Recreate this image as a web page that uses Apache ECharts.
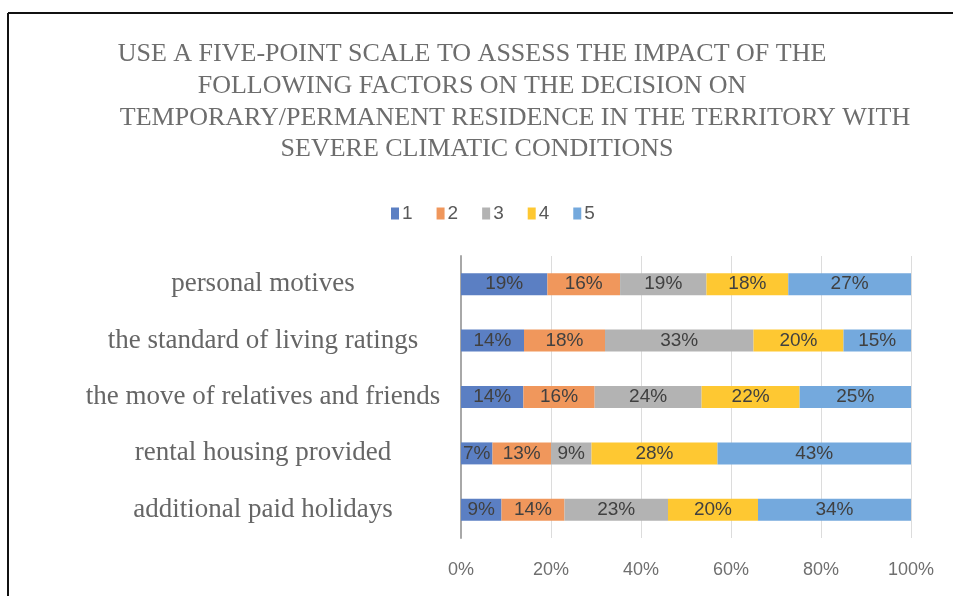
<!DOCTYPE html>
<html>
<head>
<meta charset="utf-8">
<script src="https://cdn.jsdelivr.net/npm/echarts@6/dist/echarts.min.js"></script>
<style>
  html, body { margin: 0; padding: 0; background: #fff; }
  #chart { width: 955px; height: 596px; }
</style>
</head>
<body>
<div id="chart"></div>
<script>
// factors, top to bottom as in the picture
const categories = [
  'personal motives',
  'the standard of living ratings',
  'the move of relatives and friends',
  'rental housing provided',
  'additional paid holidays'
]
// scores 1..5, percent of answers for each factor
const score1 = [19, 14, 14, 7, 9]
const score2 = [16, 18, 16, 13, 14]
const score3 = [19, 33, 24, 9, 23]
const score4 = [18, 20, 22, 28, 20]
const score5 = [27, 15, 25, 43, 34]
const seriesNames = ['1', '2', '3', '4', '5']
const xTicks = ['0%', '20%', '40%', '60%', '80%', '100%']

const titleLines = [
  'USE A FIVE-POINT SCALE TO ASSESS THE IMPACT OF THE',
  'FOLLOWING FACTORS ON THE DECISION ON',
  'TEMPORARY/PERMANENT RESIDENCE IN THE TERRITORY WITH',
  'SEVERE CLIMATIC CONDITIONS'
]

const colors = ['#5b7fc3', '#f0975c', '#b3b3b3', '#fec832', '#74a9dd']
const allScores = [score1, score2, score3, score4, score5]

// 100% stacked: every row is scaled to its own total
const totals = categories.map((c, i) => allScores.reduce((s, arr) => s + arr[i], 0))

const chart = echarts.init(document.getElementById('chart'))

// title lines are not centred on the same x in the original
const titleX = [472, 472, 515, 477]
const titleY = [54, 86, 118, 149]

const option = {
  backgroundColor: '#fff',
  color: colors,
  animation: false,
  graphic: [
    { type: 'line', shape: { x1: 8, y1: 13, x2: 953, y2: 13 }, style: { stroke: '#111', lineWidth: 2 } },
    { type: 'line', shape: { x1: 8, y1: 13, x2: 8, y2: 596 }, style: { stroke: '#111', lineWidth: 2 } }
  ].concat(titleLines.map((t, i) => ({
    type: 'text',
    x: titleX[i],
    y: titleY[i],
    style: {
      text: t,
      fill: '#6d6d6d',
      font: '26px "Liberation Serif"',
      textAlign: 'center',
      textVerticalAlign: 'middle'
    }
  }))),
  legend: {
    top: 199,
    left: 386,
    itemWidth: 8,
    itemHeight: 12,
    itemGap: 24,
    icon: 'rect',
    textStyle: { color: '#595959', fontSize: 19, fontFamily: 'Liberation Sans', padding: [0, 0, 0, -2] },
    data: seriesNames
  },
  grid: {
    left: 461,
    right: 44,
    top: 256,
    height: 282,
    containLabel: false
  },
  xAxis: {
    type: 'value',
    min: 0,
    max: 100,
    interval: 20,
    axisLine: { show: false },
    axisTick: { show: false },
    splitLine: { lineStyle: { color: '#dcdcdc', width: 1 } },
    axisLabel: {
      color: '#6f6f6f',
      fontSize: 18,
      fontFamily: 'Liberation Sans',
      margin: 23,
      formatter: (v) => xTicks[Math.round(v / 20)]
    }
  },
  yAxis: {
    type: 'category',
    inverse: true,
    data: categories,
    axisLine: { lineStyle: { color: '#a8a8a8', width: 2 } },
    axisTick: { show: false },
    axisLabel: {
      color: '#666',
      fontSize: 27,
      fontFamily: 'Liberation Serif',
      align: 'center',
      margin: 198
    }
  },
  series: allScores.map((arr, k) => ({
    name: seriesNames[k],
    type: 'bar',
    stack: 'total',
    barWidth: 22,
    data: arr.map((v, i) => v / totals[i] * 100),
    label: {
      show: true,
      position: 'inside',
      color: '#404040',
      fontSize: 19,
      fontFamily: 'Liberation Sans',
      formatter: (p) => arr[p.dataIndex] + '%'
    }
  }))
}

chart.setOption(option)
</script>
</body>
</html>
